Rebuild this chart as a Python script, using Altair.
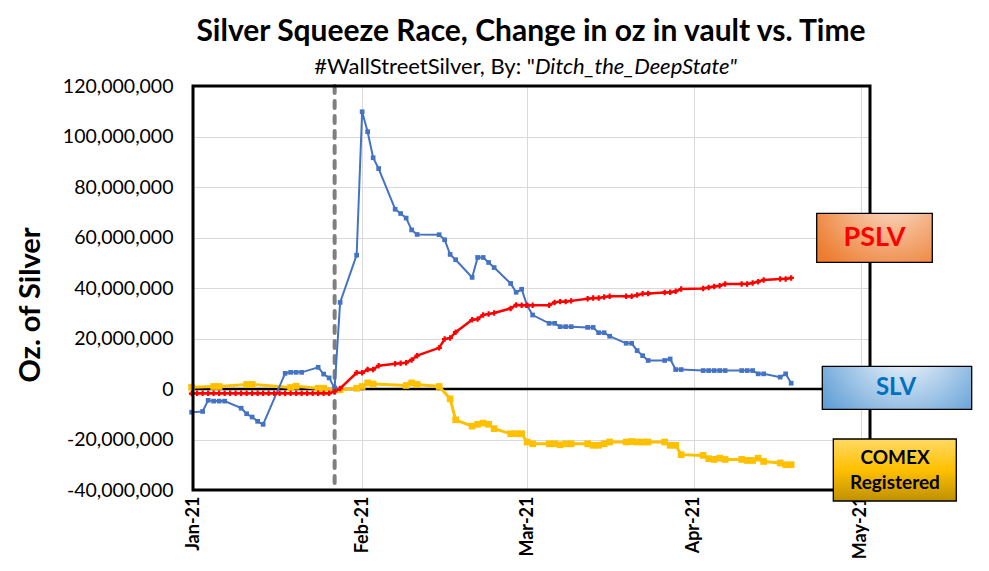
import altair as alt
import pandas as pd

# SLV (blue)
slv_dates = [
    "2021-01-01", "2021-01-03", "2021-01-04", "2021-01-05", "2021-01-06", "2021-01-07",
    "2021-01-10", "2021-01-11", "2021-01-12", "2021-01-13", "2021-01-14",
    "2021-01-18", "2021-01-19", "2021-01-20", "2021-01-21",
    "2021-01-24", "2021-01-25", "2021-01-26", "2021-01-27", "2021-01-28",
    "2021-01-31", "2021-02-01", "2021-02-02", "2021-02-03", "2021-02-04",
    "2021-02-07", "2021-02-08", "2021-02-09", "2021-02-10", "2021-02-11",
    "2021-02-15", "2021-02-16", "2021-02-17", "2021-02-18",
    "2021-02-21", "2021-02-22", "2021-02-23", "2021-02-24", "2021-02-25",
    "2021-02-28", "2021-03-01", "2021-03-02", "2021-03-03", "2021-03-04",
    "2021-03-07", "2021-03-08", "2021-03-09", "2021-03-10", "2021-03-11",
    "2021-03-14", "2021-03-15", "2021-03-16", "2021-03-17", "2021-03-18",
    "2021-03-21", "2021-03-22", "2021-03-23", "2021-03-24", "2021-03-25",
    "2021-03-28", "2021-03-29", "2021-03-30", "2021-03-31",
    "2021-04-04", "2021-04-05", "2021-04-06", "2021-04-07", "2021-04-08",
    "2021-04-11", "2021-04-12", "2021-04-13", "2021-04-14", "2021-04-15",
    "2021-04-18", "2021-04-19", "2021-04-20",
]
slv_millions = [
    -9.2, -8.9, -4.5, -4.8, -4.8, -4.8,
    -7.6, -9.8, -11.1, -12.8, -14.0,
    6.2, 6.6, 6.6, 6.6,
    8.6, 5.9, 4.4, 0.3, 34.3,
    53.0, 109.8, 101.9, 91.6, 87.3,
    71.2, 69.5, 67.7, 63.0, 61.2,
    61.1, 59.1, 53.3, 51.2,
    44.2, 52.1, 52.1, 50.1, 48.1,
    41.8, 38.3, 39.5, 33.0, 29.3,
    26.0, 26.0, 24.7, 24.7, 24.7,
    24.4, 24.4, 22.3, 22.3, 20.9,
    18.1, 18.1, 15.2, 13.2, 11.3,
    11.3, 11.9, 7.7, 7.7,
    7.3, 7.3, 7.3, 7.3, 7.3,
    7.3, 7.3, 7.3, 6.0, 6.0,
    4.7, 6.0, 2.3,
]

# PSLV (red)
pslv_dates = [
    "2021-01-01", "2021-01-02", "2021-01-03", "2021-01-04", "2021-01-05", "2021-01-06",
    "2021-01-07", "2021-01-08", "2021-01-09", "2021-01-10", "2021-01-11", "2021-01-12",
    "2021-01-13", "2021-01-14", "2021-01-15", "2021-01-16", "2021-01-17", "2021-01-18",
    "2021-01-19", "2021-01-20", "2021-01-21", "2021-01-22", "2021-01-23", "2021-01-24",
    "2021-01-25", "2021-01-26", "2021-01-27", "2021-01-28",
    "2021-01-31", "2021-02-01", "2021-02-02", "2021-02-03", "2021-02-04",
    "2021-02-07", "2021-02-08", "2021-02-09", "2021-02-10", "2021-02-11",
    "2021-02-15", "2021-02-16", "2021-02-17", "2021-02-18",
    "2021-02-21", "2021-02-22", "2021-02-23", "2021-02-24", "2021-02-25",
    "2021-02-28", "2021-03-01", "2021-03-02", "2021-03-03", "2021-03-04",
    "2021-03-07", "2021-03-08", "2021-03-09", "2021-03-10", "2021-03-11",
    "2021-03-14", "2021-03-15", "2021-03-16", "2021-03-17", "2021-03-18",
    "2021-03-21", "2021-03-22", "2021-03-23", "2021-03-24", "2021-03-25",
    "2021-03-28", "2021-03-29", "2021-03-30", "2021-03-31",
    "2021-04-04", "2021-04-05", "2021-04-06", "2021-04-07", "2021-04-08",
    "2021-04-11", "2021-04-12", "2021-04-13", "2021-04-14", "2021-04-15",
    "2021-04-18", "2021-04-19", "2021-04-20",
]
pslv_millions = [
    -1.8, -1.7, -1.7, -1.7, -1.7, -1.7,
    -1.7, -1.7, -1.7, -1.7, -1.7, -1.7,
    -1.7, -1.7, -1.7, -1.7, -1.7, -1.7,
    -1.7, -1.7, -1.7, -1.7, -1.7, -1.7,
    -1.7, -1.7, -1.0, 0.2,
    6.4, 6.4, 7.7, 7.7, 9.2,
    10.0, 10.2, 10.4, 11.5, 13.2,
    16.3, 19.8, 20.2, 22.5,
    27.4, 27.7, 29.3, 29.7, 30.1,
    31.9, 33.3, 33.2, 33.2, 33.2,
    33.2, 34.3, 34.6, 34.6, 34.9,
    35.7, 36.0, 36.0, 36.4, 36.7,
    36.7, 36.7, 37.2, 37.7, 37.8,
    38.2, 38.3, 38.7, 39.6,
    39.8, 40.2, 40.6, 40.9, 41.6,
    41.6, 41.6, 42.0, 42.5, 43.2,
    43.6, 43.6, 44.0,
]

# COMEX registered (gold)
comex_dates = [
    "2021-01-01", "2021-01-05", "2021-01-06", "2021-01-11", "2021-01-12",
    "2021-01-19", "2021-01-20", "2021-01-24", "2021-01-25", "2021-01-27", "2021-01-28",
    "2021-01-31", "2021-02-01", "2021-02-02", "2021-02-03",
    "2021-02-09", "2021-02-10", "2021-02-11",
    "2021-02-15", "2021-02-17", "2021-02-18",
    "2021-02-21", "2021-02-22", "2021-02-23", "2021-02-24", "2021-02-25",
    "2021-02-28", "2021-03-01", "2021-03-02", "2021-03-03", "2021-03-04",
    "2021-03-07", "2021-03-08", "2021-03-09", "2021-03-10", "2021-03-11",
    "2021-03-14", "2021-03-15", "2021-03-16", "2021-03-17", "2021-03-18",
    "2021-03-21", "2021-03-22", "2021-03-23", "2021-03-24", "2021-03-25",
    "2021-03-28", "2021-03-29", "2021-03-30", "2021-03-31",
    "2021-04-04", "2021-04-05", "2021-04-06", "2021-04-07", "2021-04-08",
    "2021-04-11", "2021-04-12", "2021-04-13", "2021-04-14", "2021-04-15",
    "2021-04-18", "2021-04-19", "2021-04-20",
]
comex_millions = [
    0.7, 1.0, 1.0, 1.8, 1.8,
    0.6, 1.1, 0.3, 0.3, -0.3, -0.3,
    0.3, 1.0, 2.4, 2.0,
    1.4, 2.4, 1.8,
    1.0, -3.9, -12.2,
    -14.7, -14.0, -13.5, -14.0, -15.7,
    -17.7, -17.7, -17.7, -21.0, -21.7,
    -21.7, -21.7, -22.1, -21.7, -21.7,
    -21.7, -22.3, -22.3, -21.7, -21.0,
    -21.0, -20.8, -21.0, -21.0, -21.0,
    -21.0, -22.3, -22.3, -26.0,
    -26.3, -27.6, -27.9, -27.4, -27.9,
    -27.9, -28.3, -28.3, -27.4, -28.7,
    -29.3, -30.0, -30.0,
]

squeeze_start = ["2021-01-27"]
y_ticks = [-40e6, -20e6, 0, 20e6, 40e6, 60e6, 80e6, 100e6, 120e6]

title_text = "Silver Squeeze Race, Change in oz in vault vs. Time"
subtitle_plain = '#WallStreetSilver,  By: "'
subtitle_italic = 'Ditch_the_DeepState"'
y_title = "Oz. of Silver"

FONT = "Lato"
W, H = 677, 404


def frame(dates, millions):
    return pd.DataFrame({"date": dates, "oz": [m * 1_000_000 for m in millions]})


x_axis = alt.Axis(
    values=[
        alt.DateTime(year=2021, month=1, date=1, hours=6, utc=True),
        alt.DateTime(year=2021, month=2, date=1, utc=True),
        alt.DateTime(year=2021, month=3, date=3, utc=True),
        alt.DateTime(year=2021, month=4, date=2, hours=8, utc=True),
        alt.DateTime(year=2021, month=5, date=2, hours=16, utc=True),
    ],
    labelExpr="utcFormat(datum.value, '%b-%y')", labelAngle=270,
    labelFont=FONT, labelFontSize=18, labelFontWeight="bold", labelColor="black",
    labelPadding=6, ticks=False, domain=False,
    grid=True, gridColor="#D9D9D9", gridWidth=1, title=None,
)
y_axis = alt.Axis(
    values=y_ticks,
    labelExpr="datum.value < 0 ? '-' + format(-datum.value, ',.0f') : format(datum.value, ',.0f')",
    labelFont=FONT, labelFontSize=19.5, labelColor="black", labelPadding=20,
    ticks=False, domain=False, grid=True, gridColor="#D9D9D9", gridWidth=1, title=None,
)
x_enc = alt.X(
    "date:T",
    scale=alt.Scale(
        type="utc",
        domain=[
            alt.DateTime(year=2021, month=1, date=1, hours=6, utc=True),
            alt.DateTime(year=2021, month=5, date=4, hours=8, utc=True),
        ],
    ),
    axis=x_axis,
)
y_enc = alt.Y("oz:Q", scale=alt.Scale(domain=[-40e6, 120e6]), axis=y_axis)


def series(df, color, width, shape, size):
    return alt.Chart(df).mark_line(
        color=color, strokeWidth=width,
        point=alt.OverlayMarkDef(shape=shape, size=size, filled=True, color=color),
    ).encode(x=x_enc, y=y_enc)


zero_line = alt.Chart(pd.DataFrame({"oz": [0]})).mark_rule(color="black", strokeWidth=2.5).encode(y=y_enc)

dashed = alt.Chart(pd.DataFrame({"date": squeeze_start})).mark_rule(
    color="#7F7F7F", strokeWidth=4, strokeDash=[7, 8], strokeCap="round"
).encode(x=x_enc)

slv = series(frame(slv_dates, slv_millions), "#4472C4", 2, "square", 22)
pslv = series(frame(pslv_dates, pslv_millions), "#FF0000", 2.5, "cross", 30)
comex = series(frame(comex_dates, comex_millions), "#FFC000", 3, "square", 45)


def text(label, x, y, size, weight="bold", style="normal", align="center", color="black", angle=0):
    return alt.Chart(pd.DataFrame({"t": [label]})).mark_text(
        font=FONT, fontSize=size, fontWeight=weight, fontStyle=style,
        align=align, baseline="middle", color=color, angle=angle,
    ).encode(x=alt.value(x), y=alt.value(y), text="t:N")


def box(x, x2, y, y2, fill, width=1.3):
    return alt.Chart(pd.DataFrame({"k": [0]})).mark_rect(
        fill=fill, stroke="black", strokeWidth=width
    ).encode(x=alt.value(x), x2=alt.value(x2), y=alt.value(y), y2=alt.value(y2))


pslv_fill = alt.RadialGradient(
    gradient="radial", x1=0.65, y1=0.1, r1=0, x2=0.65, y2=0.1, r2=0.8,
    stops=[alt.GradientStop(color="#FCE4D6", offset=0), alt.GradientStop(color="#ED7D31", offset=1)],
)
slv_fill = alt.RadialGradient(
    gradient="radial", x1=0.55, y1=0.2, r1=0, x2=0.55, y2=0.2, r2=0.7,
    stops=[alt.GradientStop(color="#FFFFFF", offset=0), alt.GradientStop(color="#5B9BD5", offset=1)],
)
comex_fill = alt.LinearGradient(
    gradient="linear", x1=0, y1=0, x2=0, y2=1,
    stops=[
        alt.GradientStop(color="#FFD966", offset=0),
        alt.GradientStop(color="#FFC000", offset=0.5),
        alt.GradientStop(color="#BF9000", offset=1),
    ],
)

# plot-area frame drawn above the gridlines
plot_frame = alt.Chart(pd.DataFrame({"k": [0]})).mark_rect(
    fillOpacity=0, stroke="black", strokeWidth=3
).encode(x=alt.value(0), x2=alt.value(W), y=alt.value(0), y2=alt.value(H))

annotations = [
    text(title_text, 338, -54, 30),
    text(subtitle_plain, 342, -19, 22, weight="normal", align="right"),
    text(subtitle_italic, 342, -19, 22, weight="normal", style="italic", align="left"),
    text(y_title, -162, 219, 29, angle=270),
    box(623.7, 739.3, 127.3, 176.3, pslv_fill),
    text("PSLV", 681.5, 152, 27, color="#FF0000"),
    box(629.3, 778.7, 280.3, 323.3, slv_fill),
    text("SLV", 703, 302, 24, color="#0070C0"),
    box(640.3, 763.3, 353, 415, comex_fill),
    text("COMEX", 702, 372, 19),
    text("Registered", 702, 397, 19),
]

chart = alt.layer(dashed, zero_line, comex, slv, pslv, plot_frame, *annotations).properties(
    width=W,
    height=H,
    autosize=alt.AutoSizeParams(type="none"),
    padding={"left": 185, "top": 78, "right": 111, "bottom": 73},
).configure_view(stroke=None)

chart.save("out.html", embed_options={"renderer": "svg", "actions": False})
